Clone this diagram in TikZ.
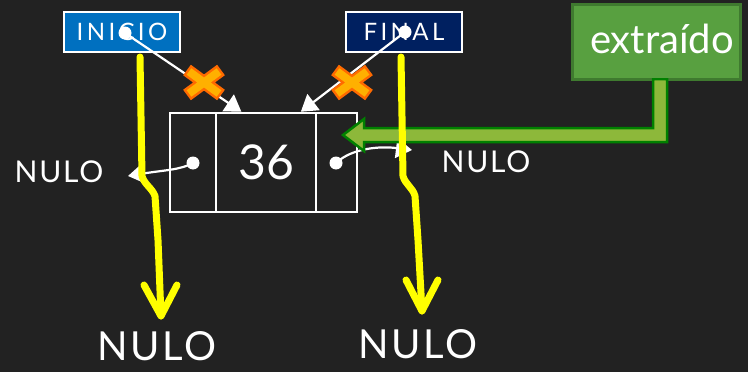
\documentclass[tikz,border=0pt]{standalone}
\usepackage{fontspec}
\setmainfont{Lato}
\usetikzlibrary{arrows.meta,calc}
\definecolor{bg}{HTML}{222222}
\definecolor{inicioblue}{HTML}{0070C0}
\definecolor{finalblue}{HTML}{002060}
\definecolor{boxgreen}{HTML}{58A040}
\definecolor{boxgreenedge}{HTML}{3F7A2F}
\definecolor{arrowgreen}{HTML}{8DB83A}
\definecolor{arrowedge}{HTML}{008000}
\definecolor{xfill}{HTML}{FFB000}
\definecolor{xedge}{HTML}{FF6A00}
\definecolor{yel}{HTML}{FFFF00}
\tikzset{
  labelbox/.style={draw=white, line width=2.5pt, minimum width=116pt, minimum height=40pt, inner sep=0pt, text=white, font=\fontsize{24}{24}\selectfont\addfontfeature{LetterSpace=14}},
  txt/.style={text=white, inner sep=0pt},
  cell/.style={draw=white, line width=2.5pt, minimum height=99pt, inner sep=0pt},
  ptr/.style={draw=white, line width=2.2pt, -{Triangle[width=20pt,length=16pt]}},
  dotw/.style={circle, fill=white, inner sep=0pt, minimum size=13pt},
  yarrow/.style={draw=yel, line width=7pt, line cap=round, line join=round},
}
\begin{document}
\begin{tikzpicture}[x=1pt,y=-1pt]
\fill[bg] (0,0) rectangle (748,372);
\useasboundingbox (0,0) rectangle (748,372);

% list node
\node[cell, minimum width=46pt] (c1) at (193,162.5) {};
\node[cell, minimum width=100pt, font=\fontsize{48}{48}\selectfont, text=white] (c2) at (266,162.5) {36};
\node[cell, minimum width=41pt] (c3) at (336.5,162.5) {};
\node[dotw] (d1) at (193,163) {};
\node[dotw] (d2) at (336,163) {};

% NULO side labels
\node[txt, font=\fontsize{30}{30}\selectfont\addfontfeature{LetterSpace=6}] (nl) at (59,172) {NULO};
\node[txt, font=\fontsize{30}{30}\selectfont\addfontfeature{LetterSpace=6}] (nr) at (486,162) {NULO};
\coordinate (nlarr) at (128,176);
\coordinate (nrarr) at (412,150);
\draw[ptr] (d1.center) .. controls (180,170) and (165,170) .. (nlarr);
\draw[ptr] (d2.center) .. controls (352,148) and (380,146) .. (nrarr);

% head / tail boxes
\node[labelbox, fill=inicioblue] (ini) at (122,32) {INICIO};
\node[labelbox, fill=finalblue] (fin) at (404,32) {FINAL};
\node[dotw] (di) at (125,33) {};
\node[dotw] (df) at (405,32) {};
\draw[ptr] (di.center) -- ($(c2.north west)!0.26!(c2.north east)$);
\draw[ptr] (df.center) -- ($(c2.north west)!0.84!(c2.north east)$);

% orange crosses
\foreach \cx in {204,352}{
  \draw[xedge, line width=13pt] (\cx-17,70) -- (\cx+17,95) (\cx+17,70) -- (\cx-17,95);
}
\foreach \cx in {204,352}{
  \draw[xfill, line width=8pt] (\cx-15,71.5) -- (\cx+15,93.5) (\cx+15,71.5) -- (\cx-15,93.5);
}

% extraido box and green arrow
\node[draw=boxgreenedge, fill=boxgreen, line width=3pt, minimum width=168pt, minimum height=75pt, inner sep=0pt] (ex) at (656,41.5) {};
\node[txt, font=\fontsize{40}{40}\selectfont, anchor=base] (ext) at (662,53) {extraído};
\draw[arrowedge, fill=arrowgreen, line width=2.5pt, line join=miter]
  (653,79) -- (667,79) -- (667,142) -- (364,142) -- (364,151) -- (343,135) -- (364,119) -- (364,128) -- (653,128) -- cycle;
\fill[boxgreen] (651,72) rectangle (669,77.5);

% yellow arrows
\node[txt, font=\fontsize{40}{40}\selectfont\addfontfeature{LetterSpace=7}] (bl) at (157,346) {NULO};
\node[txt, font=\fontsize{40}{40}\selectfont\addfontfeature{LetterSpace=7}] (br) at (418,344) {NULO};
\coordinate (ys1) at (140,57);
\coordinate (ye1) at (161,316);
\coordinate (ys2) at (401,57);
\coordinate (ye2) at (422,311);
\draw[yarrow] (ys1) -- (142,176) .. controls (144,184) and (152,188) .. (155,196) -- (158,240) -- (ye1);
\draw[yarrow] ($(ye1)+(-17,-31)$) -- (ye1) -- ($(ye1)+(16,-31)$);
\draw[yarrow] (ys2) -- (403,176) .. controls (405,184) and (413,188) .. (415,196) -- (418,240) -- (ye2);
\draw[yarrow] ($(ye2)+(-16,-31)$) -- (ye2) -- ($(ye2)+(16,-31)$);
\end{tikzpicture}
\end{document}
